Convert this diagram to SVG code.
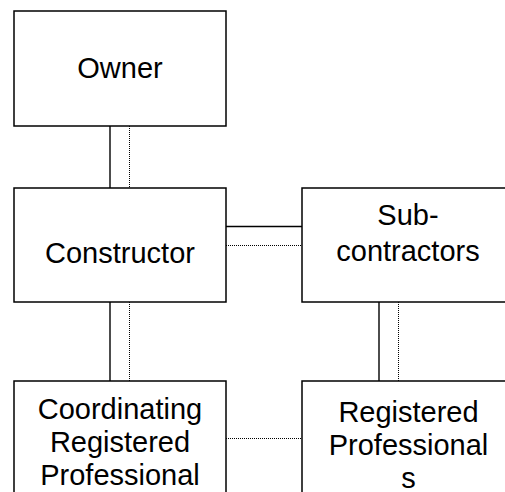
<svg xmlns="http://www.w3.org/2000/svg" width="505" height="492" viewBox="0 0 505 492">
<style>
.box{fill:#fff;stroke:#000;stroke-width:1.5}
.lbl{font-family:"Liberation Sans",Arial,sans-serif;font-size:29px;fill:#000;text-anchor:middle}
.solid{stroke:#000;stroke-width:1.4;fill:none}
.dot{stroke:#000;stroke-width:1;stroke-dasharray:1 1;fill:none}
</style>
<rect width="505" height="492" fill="#fff"/>
<g id="connectors">
<line class="solid" x1="110" y1="126" x2="110" y2="188"/>
<line class="dot" x1="129.5" y1="126" x2="129.5" y2="188"/>
<line class="solid" x1="226" y1="226.5" x2="302" y2="226.5"/>
<line class="dot" x1="226" y1="245.5" x2="302" y2="245.5"/>
<line class="solid" x1="110" y1="302" x2="110" y2="381"/>
<line class="dot" x1="129.5" y1="302" x2="129.5" y2="381"/>
<line class="solid" x1="379" y1="302" x2="379" y2="381"/>
<line class="dot" x1="398.5" y1="302" x2="398.5" y2="381"/>
<line class="dot" x1="226" y1="438.5" x2="302" y2="438.5"/>
</g>
<g id="owner">
<rect class="box" x="14" y="11" width="212" height="115"/>
<text class="lbl" x="120" y="77.5">Owner</text>
</g>
<g id="constructor">
<rect class="box" x="14" y="188" width="212" height="114"/>
<text class="lbl" x="120" y="262.5">Constructor</text>
</g>
<g id="subcontractors">
<rect class="box" x="302" y="188" width="212" height="114"/>
<text class="lbl" x="408" y="224.5">Sub-</text>
<text class="lbl" x="408" y="260.5">contractors</text>
</g>
<g id="coordinating">
<rect class="box" x="14" y="381" width="212" height="120"/>
<text class="lbl" x="120" y="418.5">Coordinating</text>
<text class="lbl" x="120" y="451.8">Registered</text>
<text class="lbl" x="120" y="485">Professional</text>
</g>
<g id="registered">
<rect class="box" x="302" y="381" width="212" height="120"/>
<text class="lbl" x="408.5" y="421.7">Registered</text>
<text class="lbl" x="408.5" y="455">Professional</text>
<text class="lbl" x="408.5" y="488.3">s</text>
</g>
</svg>
